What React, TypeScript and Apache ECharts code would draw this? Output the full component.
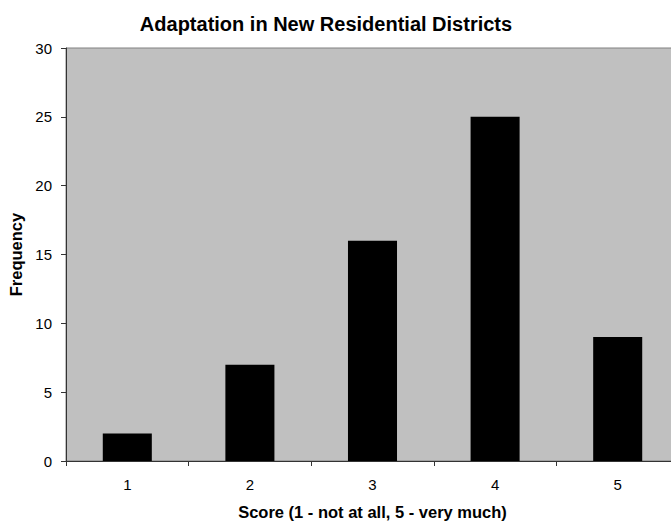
import React, { useEffect, useRef } from "react";
import * as echarts from "echarts";

const categories = ["1", "2", "3", "4", "5"];
const frequencies = [2, 7, 16, 25, 9];
const chartTitle = "Adaptation in New Residential Districts";
const xTitle = "Score (1 - not at all, 5 - very much)";
const yTitle = "Frequency";

export default function App() {
  const ref = useRef<HTMLDivElement>(null);
  useEffect(() => {
    if (!ref.current) return;
    const chart = echarts.init(ref.current, undefined, { renderer: "svg" });
    const font = "Arial, 'Liberation Sans', sans-serif";
    chart.setOption({
      animation: false,
      textStyle: { fontFamily: font },
      title: {
        text: chartTitle,
        left: 321,
        top: 9,
        textAlign: "center",
        textStyle: { fontSize: 20, fontWeight: "bold", color: "#000", fontFamily: font },
      },
      grid: {
        left: 66,
        top: 48,
        bottom: 60,
        right: -8,
        containLabel: false,
        outerBoundsMode: "none",
        show: true,
        backgroundColor: "#C0C0C0",
        borderColor: "#808080",
        borderWidth: 1,
      },
      xAxis: {
        type: "category",
        data: categories,
        boundaryGap: true,
        axisLine: { show: true, lineStyle: { color: "#333", width: 1 } },
        axisTick: { show: true, length: 5, inside: false, lineStyle: { color: "#333" } },
        axisLabel: { fontSize: 15, color: "#000", margin: 16, fontFamily: font },
        splitLine: { show: false },
        name: xTitle,
        nameLocation: "middle",
        nameGap: 42,
        nameTextStyle: { fontSize: 16.5, fontWeight: "bold", color: "#000", fontFamily: font },
      },
      yAxis: {
        type: "value",
        min: 0,
        max: 30,
        interval: 5,
        axisLine: { show: true, lineStyle: { color: "#333", width: 1 } },
        axisTick: { show: true, length: 5, inside: false, lineStyle: { color: "#333" } },
        axisLabel: { fontSize: 15, color: "#000", margin: 14, fontFamily: font },
        splitLine: { show: false },
        name: yTitle,
        nameLocation: "middle",
        nameGap: 40,
        nameRotate: 90,
        nameTextStyle: { fontSize: 16.5, fontWeight: "bold", color: "#000", fontFamily: font },
      },
      series: [
        {
          type: "bar",
          data: frequencies,
          barWidth: "40%",
          itemStyle: { color: "#000" },
        },
      ],
    });
    return () => chart.dispose();
  }, []);
  return (
    <div
      ref={ref}
      style={{ position: "fixed", left: 0, top: 0, width: 671, height: 521, background: "#fff" }}
    />
  );
}
